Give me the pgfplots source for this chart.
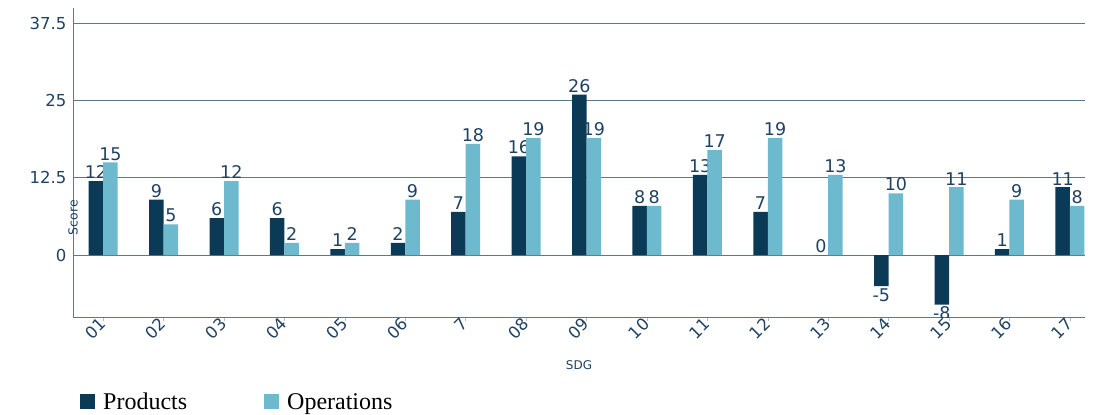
\documentclass[border=0pt]{standalone}
\usepackage{fontspec}
\setmainfont{Liberation Serif}
\newfontfamily\labfont{DejaVu Sans}
\usepackage{pgfplots}
\pgfplotsset{compat=1.18}

\definecolor{prodcol}{HTML}{0B3A57}
\definecolor{opercol}{HTML}{6DB9CE}
\definecolor{txtcol}{HTML}{1F4262}
\definecolor{gridcol}{HTML}{5F7789}

\begin{document}
\begin{tikzpicture}
\begin{axis}[
  scale only axis,
  width=1012pt, height=309pt,
  xmin=-0.5, xmax=16.25,
  ymin=-10, ymax=40,
  ybar=0pt, bar width=14.5pt,
  axis lines=left,
  axis line style={-, draw=gridcol, line width=0.9pt},
  clip marker paths=true,
  xtick={0,...,16},
  xticklabels={01,02,03,04,05,06,7,08,09,10,11,12,13,14,15,16,17},
  ytick={0,12.5,25,37.5},
  yticklabels={0,12.5,25,37.5},
  ymajorgrids,
  grid style={draw=gridcol, line width=0.9pt},
  xtick align=outside,
  major tick length=4pt,
  xtick style={draw=gridcol!50, line width=0.6pt},
  ytick style={draw=none},
  ticklabel style={font=\labfont\fontsize{16.5}{19}\selectfont, text=txtcol},
  yticklabel style={xshift=-1pt},
  xticklabel style={rotate=45, anchor=north east, xshift=3pt, yshift=10pt},
  ylabel={Score},
  ylabel style={at={(rel axis cs:0,0.5)}, xshift=-55pt, rotate=0, anchor=center,
    font=\labfont\fontsize{12.5}{14}\selectfont, text=txtcol},
  xlabel={SDG},
  xlabel style={at={(rel axis cs:0.5,0)}, yshift=-48pt, anchor=center,
    font=\labfont\fontsize{12}{14}\selectfont, text=txtcol},
  nodes near coords,
  every node near coord/.append style={font=\labfont\fontsize{17.5}{20}\selectfont,
    text=txtcol, inner sep=2pt, /pgf/number format/assume math mode=true},
  legend columns=2,
  legend style={draw=none, fill=none, at={(0.0069,-0.238)}, anchor=north west,
    font=\fontsize{24}{27}\selectfont, inner sep=0pt,
    /tikz/every odd column/.append style={column sep=6pt},
    /tikz/every even column/.append style={column sep=75pt}},
]
\addplot[fill=prodcol, draw=none,
  legend image code/.code={\fill[prodcol] (0pt,-7pt) rectangle (15pt,8pt);}]
  coordinates {(0,12) (1,9) (2,6) (3,6) (4,1) (5,2) (6,7) (7,16) (8,26)
    (9,8) (10,13) (11,7) (12,0) (13,-5) (14,-8) (15,1) (16,11)};
\addlegendentry{Products}
\addplot[fill=opercol, draw=none,
  legend image code/.code={\fill[opercol] (0pt,-7pt) rectangle (15pt,8pt);}]
  coordinates {(0,15) (1,5) (2,12) (3,2) (4,2) (5,9) (6,18) (7,19) (8,19)
    (9,8) (10,17) (11,19) (12,13) (13,10) (14,11) (15,9) (16,8)};
\addlegendentry{Operations}
\end{axis}
\pgfresetboundingbox
\path ([xshift=-73pt,yshift=-97pt]current axis.south west)
  rectangle ([xshift=19pt,yshift=8pt]current axis.north east);
\end{tikzpicture}
\end{document}
